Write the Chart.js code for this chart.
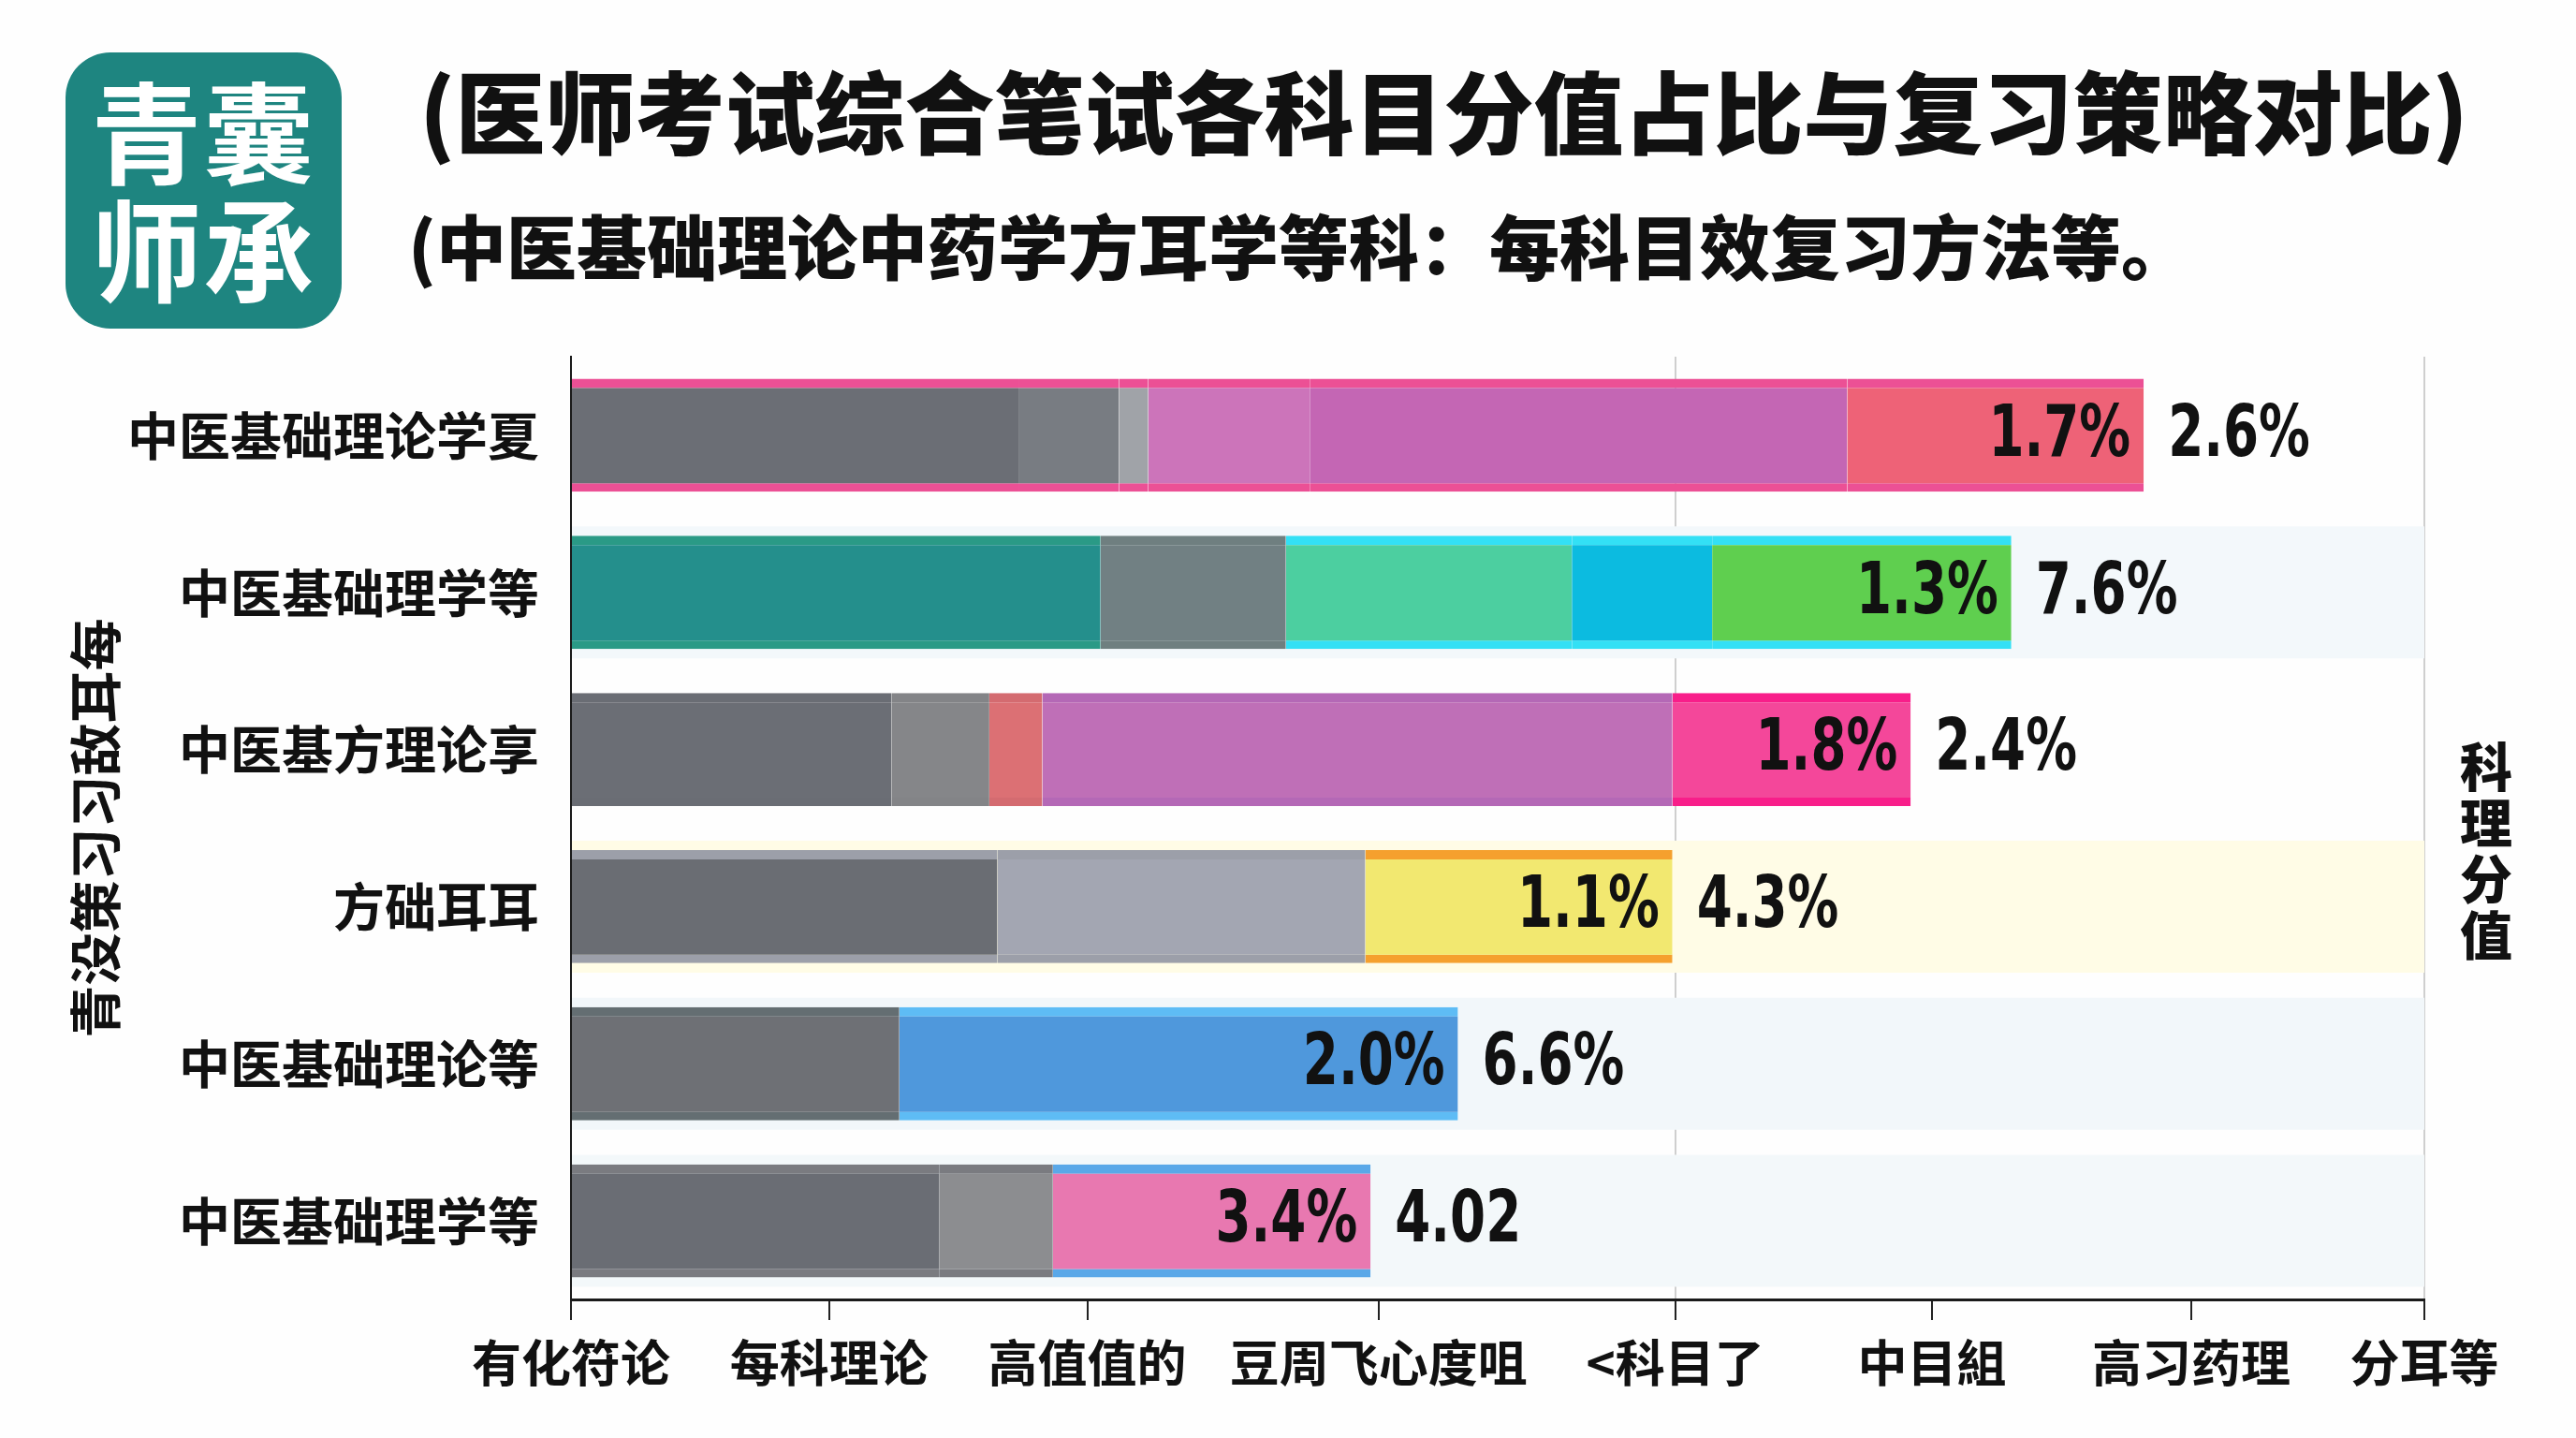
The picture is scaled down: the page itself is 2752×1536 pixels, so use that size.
<!DOCTYPE html>
<html>
<head>
<meta charset="utf-8">
<script src="https://cdn.jsdelivr.net/npm/chart.js@4/dist/chart.umd.min.js"></script>
<style>
  body { margin: 0; background: #fefefe; }
  #wrap { position: relative; width: 2752px; height: 1536px; overflow: hidden; font-family: "Noto Sans CJK SC", sans-serif; }
  #chart { position: absolute; left: 0; top: 0; }
  .logo { position: absolute; left: 70px; top: 56px; width: 295px; height: 295px; border-radius: 48px; background: #1e8580;
          color: #fff; font-weight: 700; font-size: 118px; line-height: 126px; text-align: center; padding-top: 18px; box-sizing: border-box; letter-spacing: 2px; }
  .title { position: absolute; left: 448px; top: 58px; font-size: 96px; font-weight: 900; color: #111; white-space: nowrap; line-height: 1.2; }
  .subtitle { position: absolute; left: 436px; top: 216px; font-size: 75px; font-weight: 900; color: #111; white-space: nowrap; line-height: 1.2; }
  .rlabel { position: absolute; left: 2626px; top: 786px; width: 60px; font-size: 56px; font-weight: 900; line-height: 60px; color: #111; text-align: center; }
</style>
</head>
<body>
<div id="wrap">
  <div class="logo">青囊<br>师承</div>
  <div class="title">(医师考试综合笔试各科目分值占比与复习策略对比)</div>
  <div class="subtitle">(中医基础理论中药学方耳学等科：每科目效复习方法等。</div>
  <div class="rlabel">科<br>理<br>分<br>值</div>
  <canvas id="chart" width="2752" height="1536"></canvas>
</div>
<script>
// categories and tick labels
const subjects = ['中医基础理论学夏', '中医基础理学等', '中医基方理论享', '方础耳耳', '中医基础理论等', '中医基础理学等'];
const xLabels = ['有化符论', '每科理论', '高值值的', '豆周飞心度咀', '<科目了', '中目組', '高习药理', '分耳等'];
const xTickPos = [0, 0.975, 1.95, 3.05, 4.17, 5.14, 6.12, 7];

// stacked segments, left to right
const seg1 = [1.69, 2.00, 1.21, 1.61, 1.24, 1.39];
const seg2 = [0.38, 0.70, 0.37, 1.39, 2.11, 0.43];
const seg3 = [0.11, 1.08, 0.20, 1.16, null, 1.20];
const seg4 = [0.61, 0.53, 2.38, null, null, null];
const seg5 = [2.03, 1.13, 0.90, null, null, null];
const seg6 = [1.12, null, null, null, null, null];
const bandValues = [7, 7, 7, 7, 7, 7];

// labels at the bar ends
const innerLabels = ['1.7%', '1.3%', '1.8%', '1.1%', '2.0%', '3.4%'];
const outerLabels = ['2.6%', '7.6%', '2.4%', '4.3%', '6.6%', '4.02'];

// colours per segment (one entry per row)
const fill = [
  ['#6b6e75', '#248f8c', '#6b6e75', '#6a6d73', '#6e7075', '#6a6d74'],
  ['#787c82', '#718083', '#858689', '#a3a6b2', '#4f98dc', '#8c8d90'],
  ['#a0a3a8', '#4ccfa0', '#dc7074', '#f2e870', null, '#e878b0'],
  ['#cc74ba', '#0cbbe0', '#bf6fb7', null, null, null],
  ['#c466b4', '#5fcf4f', '#f4479a', null, null, null],
  ['#ee6277', null, null, null, null, null]
];
const stripe = [
  ['#ec5095', '#2a9a86', '#6a6d74', '#9c9fa9', '#646e72', '#7a7b80'],
  ['#ec5095', '#6f7f80', '#838487', '#9c9fa9', '#5ebcf5', '#7a7b80'],
  ['#ec5095', '#33e0f5', '#d46b70', '#f5a02e', null, '#5aa8e8'],
  ['#ec5095', '#33e0f5', '#b468b6', null, null, null],
  ['#ec5095', '#33e0f5', '#f81e8a', null, null, null],
  ['#ec5095', null, null, null, null, null]
];
const bandColors = ['rgba(0,0,0,0)', '#f3f8fb', 'rgba(0,0,0,0)', '#fffce6', '#f2f7fa', '#f3f8fa'];

const numFont = 'bold 76px "DejaVu Sans Condensed", "DejaVu Sans", sans-serif';
const squeeze = 0.8;

const segs = [seg1, seg2, seg3, seg4, seg5, seg6];
const datasets = segs.map((s, k) => ({
  data: s,
  stack: 'main',
  order: 0,
  backgroundColor: fill[k],
  borderColor: stripe[k],
  borderWidth: { top: 10, bottom: 9, left: 0, right: 0 },
  borderSkipped: false,
  categoryPercentage: 1,
  barPercentage: 0.72
}));
datasets.push({
  data: bandValues,
  stack: 'bg',
  order: 10,
  grouped: false,
  backgroundColor: bandColors,
  categoryPercentage: 1,
  barPercentage: 0.84
});

// value labels inside and after the last segment of each bar
const endLabels = {
  id: 'endLabels',
  afterDatasetsDraw(chart) {
    const ctx = chart.ctx;
    subjects.forEach((s, i) => {
      let last = -1;
      segs.forEach((arr, k) => { if (arr[i] != null) last = k; });
      const el = chart.getDatasetMeta(last).data[i];
      ctx.save();
      ctx.font = numFont;
      ctx.fillStyle = '#111';
      ctx.textBaseline = 'middle';
      ctx.translate(el.x, el.y + 2);
      ctx.scale(squeeze, 1);
      ctx.textAlign = 'right';
      ctx.fillText(innerLabels[i], -14 / squeeze, 0);
      ctx.textAlign = 'left';
      ctx.fillText(outerLabels[i], 26 / squeeze, 0);
      ctx.restore();
    });
  }
};

new Chart(document.getElementById('chart'), {
  type: 'bar',
  data: { labels: subjects, datasets: datasets },
  plugins: [endLabels],
  options: {
    indexAxis: 'y',
    responsive: false,
    animation: false,
    layout: { padding: { top: 381, right: 162, bottom: 0, left: 0 } },
    plugins: { legend: { display: false }, tooltip: { enabled: false } },
    scales: {
      x: {
        stacked: true,
        min: 0,
        max: 7,
        afterBuildTicks(scale) { scale.ticks = xTickPos.map(v => ({ value: v })); },
        afterFit(scale) { scale.height = 148; },
        border: { color: '#1a1a1a', width: 3 },
        grid: {
          color: c => (c.index === 4 || c.index === 7) ? '#cfcfcf' : 'rgba(0,0,0,0)',
          lineWidth: 2,
          tickColor: '#222',
          tickLength: 22
        },
        ticks: {
          autoSkip: false,
          maxRotation: 0,
          padding: 14,
          color: '#111',
          font: { family: '"Noto Sans CJK SC"', size: 53, weight: 'bold' },
          callback: (v, i) => xLabels[i]
        }
      },
      y: {
        stacked: true,
        afterFit(scale) { scale.width = 610; },
        border: { color: '#1a1a1a', width: 2 },
        grid: { display: false, drawTicks: false },
        ticks: {
          padding: 34,
          color: '#111',
          font: { family: '"Noto Sans CJK SC"', size: 55, weight: 'bold' }
        },
        title: {
          display: true,
          text: '青没策习习敌耳每',
          color: '#111',
          padding: { top: 68, bottom: 0 },
          font: { family: '"Noto Sans CJK SC"', size: 56, weight: 'bold' }
        }
      }
    }
  }
});
</script>
</body>
</html>
